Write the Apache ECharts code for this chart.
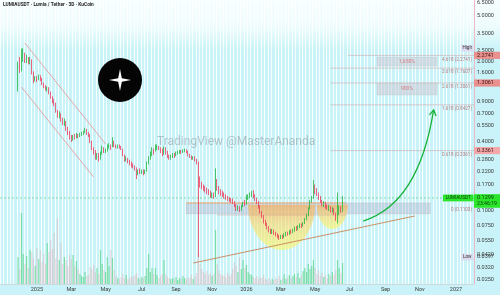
<!DOCTYPE html>
<html><head><meta charset="utf-8">
<script src="https://cdn.jsdelivr.net/npm/echarts@6/dist/echarts.min.js"></script>
<style>html,body{margin:0;padding:0;background:#c9f3f8;overflow:hidden}#c{width:500px;height:295px}</style>
</head><body><div id="c"></div>
<script>
// ---- time slots (3D candles) ----
const startDate = [2024, 9, 28];
const slotDays = 3;
const slotCount = 276;
const firstSlot = 10;
const firstLabelSlot = 10;
const firstOpen = 1.13;
const monthNames = ['Jan','Feb','Mar','Apr','May','Jun','Jul','Aug','Sep','Oct','Nov','Dec'];
const labelMonths = [0, 2, 4, 6, 8, 10];

// ---- price data (close / high / low per 3D candle) ----
const closes = [
1.95,1.70,2.20,2.35,2.05,2.15,1.95,2.10,1.60,1.38,
1.45,1.40,1.48,1.42,1.30,1.22,1.15,1.18,1.08,0.98,
0.90,0.86,0.74,0.68,0.70,0.63,0.58,0.60,0.53,0.48,
0.44,0.42,0.45,0.44,0.46,0.45,0.46,0.47,0.49,0.51,
0.48,0.46,0.40,0.35,0.33,0.30,0.31,0.29,0.32,0.35,
0.33,0.34,0.36,0.37,0.36,0.39,0.37,0.36,0.37,0.36,
0.35,0.31,0.285,0.29,0.27,0.26,0.255,0.245,0.235,0.215,
0.225,0.22,0.225,0.215,0.225,0.26,0.29,0.31,0.34,0.33,
0.36,0.37,0.35,0.34,0.32,0.35,0.33,0.30,0.29,0.30,
0.31,0.30,0.32,0.325,0.33,0.325,0.335,0.34,0.33,0.31,
0.30,0.29,0.295,0.28,0.265,0.19,0.175,0.165,0.16,0.155,
0.15,0.145,0.138,0.14,0.135,0.17,0.16,0.15,0.145,0.14,
0.135,0.132,0.128,0.127,0.125,0.12,0.113,0.105,0.108,0.104,
0.11,0.118,0.115,0.128,0.135,0.14,0.145,0.135,0.128,0.12,
0.11,0.098,0.09,0.082,0.077,0.072,0.068,0.066,0.067,0.064,
0.062,0.060,0.058,0.060,0.059,0.062,0.064,0.063,0.066,0.065,
0.068,0.071,0.069,0.073,0.076,0.074,0.078,0.084,0.092,0.105,
0.12,0.13,0.155,0.15,0.14,0.13,0.122,0.115,0.118,0.11,
0.106,0.109,0.10,0.104,0.095,0.085,0.095,0.105,0.10,0.1299];
const highs = [
2.0,2.2,2.6,2.62,2.4,2.3,2.2,2.2,2.1,1.65,
1.5,1.5,1.55,1.52,1.45,1.32,1.25,1.22,1.2,1.1,
1.0,0.95,0.88,0.76,0.74,0.71,0.65,0.64,0.61,0.54,
0.5,0.46,0.46,0.47,0.48,0.47,0.48,0.49,0.5,0.53,
0.52,0.49,0.47,0.41,0.36,0.34,0.32,0.32,0.33,0.37,
0.36,0.35,0.38,0.39,0.38,0.44,0.41,0.38,0.38,0.38,
0.37,0.35,0.31,0.30,0.29,0.28,0.27,0.26,0.25,0.24,
0.23,0.235,0.23,0.23,0.23,0.27,0.30,0.33,0.36,0.35,
0.38,0.38,0.37,0.36,0.35,0.365,0.36,0.335,0.31,0.31,
0.32,0.32,0.33,0.335,0.34,0.34,0.345,0.35,0.345,0.335,
0.315,0.305,0.30,0.30,0.285,0.27,0.20,0.18,0.17,0.165,
0.16,0.155,0.15,0.145,0.145,0.235,0.19,0.165,0.155,0.15,
0.145,0.14,0.135,0.132,0.13,0.128,0.122,0.115,0.112,0.11,
0.113,0.12,0.125,0.138,0.14,0.145,0.15,0.152,0.14,0.13,
0.122,0.112,0.10,0.092,0.084,0.079,0.074,0.07,0.07,0.069,
0.066,0.064,0.062,0.062,0.062,0.064,0.066,0.066,0.068,0.069,
0.07,0.073,0.074,0.075,0.078,0.078,0.08,0.087,0.095,0.108,
0.125,0.135,0.186,0.17,0.158,0.145,0.135,0.125,0.122,0.12,
0.114,0.113,0.11,0.108,0.106,0.097,0.145,0.112,0.11,0.135];
const lows = [
1.1,1.6,1.65,2.0,1.95,1.95,1.9,1.9,1.55,1.3,
1.35,1.33,1.38,1.36,1.25,1.18,1.12,1.1,1.04,0.95,
0.87,0.82,0.72,0.65,0.64,0.6,0.56,0.55,0.5,0.46,
0.42,0.4,0.41,0.42,0.43,0.43,0.44,0.45,0.46,0.48,
0.46,0.44,0.39,0.34,0.31,0.28,0.28,0.27,0.28,0.31,
0.32,0.32,0.33,0.35,0.34,0.36,0.36,0.35,0.35,0.35,
0.34,0.3,0.27,0.27,0.26,0.25,0.24,0.235,0.225,0.19,
0.205,0.21,0.21,0.205,0.21,0.22,0.255,0.28,0.30,0.31,
0.33,0.34,0.34,0.32,0.30,0.31,0.31,0.29,0.28,0.28,
0.29,0.29,0.30,0.31,0.315,0.315,0.32,0.325,0.32,0.30,
0.29,0.28,0.28,0.27,0.255,0.0397,0.16,0.155,0.15,0.145,
0.14,0.138,0.13,0.13,0.128,0.132,0.15,0.14,0.135,0.133,
0.128,0.125,0.122,0.12,0.118,0.115,0.108,0.10,0.10,0.098,
0.10,0.108,0.11,0.113,0.125,0.13,0.132,0.13,0.122,0.115,
0.105,0.095,0.087,0.078,0.074,0.069,0.065,0.063,0.063,0.062,
0.06,0.058,0.056,0.057,0.057,0.058,0.06,0.061,0.062,0.063,
0.064,0.066,0.067,0.068,0.071,0.071,0.073,0.077,0.083,0.09,
0.103,0.118,0.128,0.14,0.135,0.125,0.118,0.11,0.108,0.105,
0.102,0.10,0.097,0.097,0.092,0.082,0.078,0.092,0.096,0.098];
// volume, millions
const volumes = [
2.7,1.5,7.1,3.0,2.0,2.8,1.6,3.4,3.2,2.5,
1.8,3.6,2.5,3.4,2.2,3.0,2.0,4.1,3.2,4.4,
3.5,5.1,2.6,6.6,2.4,4.1,2.0,2.7,2.4,1.8,
2.9,2.5,2.9,1.8,2.3,1.5,1.0,0.8,0.7,1.2,
0.8,0.9,1.7,1.5,1.9,1.2,1.6,1.0,3.4,2.0,
1.4,1.2,2.7,1.8,3.4,2.6,1.4,0.8,0.6,0.5,
0.7,1.0,0.6,0.9,0.5,0.6,0.8,0.7,0.9,1.1,
0.6,0.5,0.7,0.6,0.8,1.6,3.0,1.2,1.6,1.0,
1.6,0.9,0.6,0.8,1.0,2.4,1.0,0.7,0.6,0.5,
0.6,0.5,0.7,0.4,0.6,0.5,0.8,0.6,0.5,0.7,
0.6,0.9,0.5,0.8,1.1,3.2,2.0,1.5,1.2,1.0,
1.3,0.9,1.1,0.8,1.0,5.4,2.0,1.3,1.0,0.8,
0.9,0.7,1.1,0.8,1.0,1.5,2.2,1.8,1.2,2.7,
1.5,2.4,1.6,1.9,1.2,1.0,0.9,0.7,0.6,0.8,
0.5,0.7,0.6,0.9,0.5,0.4,0.6,0.3,0.5,0.4,
0.6,0.5,0.8,0.4,0.6,1.0,0.5,0.7,0.9,0.6,
0.8,1.0,0.7,1.1,0.6,0.9,1.3,1.6,1.2,2.0,
1.5,1.8,2.4,1.6,1.0,1.3,0.8,1.1,0.7,0.9,
0.6,1.0,0.8,1.2,0.9,1.4,2.4,1.6,1.1,2.1];
const volAxisMax = 28.4;

// ---- price scale ----
const yMin = 0.0231, yMax = 6.91;
const priceTicks = [6.5,5,3.5,2.5,2.0,1.6,0.9,0.7,0.55,0.4,0.28,0.22,0.17,0.1,0.075,0.055,0.042,0.032,0.025];
const currentPrice = 0.1299;
const countdown = '23:46:19';
const highPrice = 2.62, lowPrice = 0.0397;

// ---- fib extension levels ----
const fibNames  = ['4.618','3.618','2.618','1.618','0.618','0'];
const fibPrices = [2.2741, 1.7607, 1.3061, 0.8427, 0.3361, 0.1103];
const fibFrom   = [202, 192, 192, 192, 192, null];
const boxedPrices = [2.2741, 1.3061, 0.3361];
const pctTexts = ['1,650%', '900%'];
const pctRanges = [[2.201, 1.838], [1.306, 1.026]];

// ---- drawings in (slot, price) ----
const channelUpper = [[14.1, 2.915], [60.6, 0.384]];
const channelLower = [[12.3, 1.205], [53.7, 0.198]];
const supportLine = [[111.9, 0.0352], [241.1, 0.0905]];
const arrowPts = [[210.9, 0.0818], [227.7, 0.098], [245.2, 0.1687], [251.6, 0.76]];
const zone = {from: 108.4, to: 249.9, top: 0.1175, bottom: 0.0945, lineTo: 201, lowLine: 0.0923, lowFrom: 126};
const cups = [{from: 143.9, to: 182.9, top: 0.1135, bottom: 0.0457}, {from: 184.0, to: 202.0, top: 0.1135, bottom: 0.0696}];
const pctFrom = 219, pctTo = 254;

const DAY = 864e5;
const startMs = Date.UTC(startDate[0], startDate[1], startDate[2]);
const categories = [];
for (let i = 0; i < slotCount; i++) categories.push(new Date(startMs + i * slotDays * DAY).toISOString().slice(0, 10));
function monthStartIn(i) {
  for (let k = 0; k < slotDays; k++) {
    const d = new Date(startMs + (i * slotDays + k) * DAY);
    if (d.getUTCDate() === 1) return d;
  }
  return null;
}

const candles = [], vols = [];
let prev = firstOpen;
for (let k = 0; k < closes.length; k++) {
  const s = firstSlot + k, o = prev, c = closes[k];
  candles.push([s, o, c, lows[k], highs[k]]);
  vols.push({value: [s, volumes[k]], itemStyle: {color: c >= o ? 'rgba(40,200,90,0.5)' : 'rgba(225,140,150,0.33)'}});
  prev = c;
}

const FONT = 'Roboto, "DejaVu Sans", sans-serif';
const chart = echarts.init(document.getElementById('c'), null, {renderer: 'canvas'});
const gridRight = 26, gridBottom = 11;
chart.setOption({
  backgroundColor: 'transparent',
  animation: false,
  grid: {left: 0, right: gridRight, top: 0, bottom: gridBottom},
  xAxis: {
    type: 'category', data: categories, boundaryGap: true,
    axisLine: {show: true, lineStyle: {color: 'rgba(210,170,180,0.6)', width: 0.6}},
    axisTick: {show: false},
    axisLabel: {
      interval: (i) => { if (i < firstLabelSlot) return false; const d = monthStartIn(i); return !!d && labelMonths.includes(d.getUTCMonth()); },
      formatter: (v, i) => { const d = monthStartIn(i); if (!d) return ''; return d.getUTCMonth() === 0 ? String(d.getUTCFullYear()) : monthNames[d.getUTCMonth()]; },
      fontSize: 5.5, color: '#3c3c3c', margin: 3, fontFamily: 'Roboto, "DejaVu Sans", sans-serif'
    },
    splitLine: {show: true, interval: 1, lineStyle: {color: 'rgba(255,255,255,0.85)', width: 1}}
  },
  yAxis: [
    {type: 'log', logBase: 10, position: 'right', min: yMin, max: yMax,
     axisLine: {show: true, lineStyle: {color: '#f0b8c2', width: 1}}, axisTick: {show: false},
     axisLabel: {show: false}, splitLine: {show: false}},
    {type: 'value', min: 0, max: volAxisMax, show: false, splitLine: {show: false}}
  ],
  series: [
    {type: 'bar', xAxisIndex: 0, yAxisIndex: 1, data: vols, barWidth: 1.2, z: 2, silent: true},
    {type: 'candlestick', xAxisIndex: 0, yAxisIndex: 0, data: candles, encode: {x: 0, y: [1, 2, 3, 4]}, barWidth: 1.3, z: 5, silent: true,
     itemStyle: {color: '#22b840', color0: '#ee3c5e', borderColor: '#22b840', borderColor0: '#ee3c5e', borderWidth: 0.8}}
  ]
});

function build() {
  const P = (s, p) => chart.convertToPixel({gridIndex: 0}, [s, p]);
  const Y = (p) => P(0, p)[1];
  const W = 500, H = 295, axisX = W - gridRight;
  const g = [];
  g.push({type: 'rect', silent: true, z: -100, shape: {x: 0, y: 0, width: W, height: H},
    style: {fill: new echarts.graphic.LinearGradient(0, 0, 0, 1, [
      {offset: 0, color: '#f7feff'}, {offset: 0.09, color: '#eefcfd'}, {offset: 0.17, color: '#c9f3f8'}, {offset: 1, color: '#c9f3f8'}])}});
  // resistance zone
  const z0 = P(zone.from, zone.top), z1 = P(zone.to, zone.bottom);
  g.push({type: 'rect', silent: true, z: 1, shape: {x: z0[0], y: z0[1], width: z1[0] - z0[0], height: z1[1] - z0[1]},
    style: {fill: 'rgba(165,160,190,0.33)', stroke: 'rgba(200,160,170,0.6)', lineWidth: 0.5}});
  // cups
  cups.forEach(c => {
    const a = P(c.from, c.top), b = P(c.to, c.top), yb = Y(c.bottom);
    const cx = (a[0] + b[0]) / 2, rx = (b[0] - a[0]) / 2, ry = yb - a[1];
    const pts = [];
    for (let k = 0; k <= 48; k++) { const t = Math.PI * k / 48; pts.push([cx + rx * Math.cos(t), a[1] + ry * Math.sin(t)]); }
    g.push({type: 'polygon', silent: true, z: 1, shape: {points: pts},
      style: {fill: new echarts.graphic.LinearGradient(0, 0, 0, 1, [
        {offset: 0, color: 'rgba(255,165,70,0.6)'}, {offset: 0.45, color: 'rgba(255,215,90,0.55)'}, {offset: 1, color: 'rgba(250,250,110,0.65)'}])}});
  });
  // zone lines
  const zt = P(zone.lineTo, zone.top);
  g.push({type: 'line', silent: true, z: 3, shape: {x1: z0[0], y1: z0[1], x2: zt[0], y2: zt[1]}, style: {stroke: 'rgba(245,150,70,0.9)', lineWidth: 0.8}});
  const l0 = P(zone.lowFrom, zone.lowLine), l1 = P(zone.lineTo, zone.lowLine);
  g.push({type: 'line', silent: true, z: 3, shape: {x1: l0[0], y1: l0[1], x2: l1[0], y2: l1[1]}, style: {stroke: 'rgba(200,130,130,0.6)', lineWidth: 0.6}});
  // channel + support
  [[channelUpper, '#e98585', 0.7], [channelLower, '#e98585', 0.7], [supportLine, '#c8845a', 0.9]].forEach(([ln, col, w]) => {
    const a = P(ln[0][0], ln[0][1]), b = P(ln[1][0], ln[1][1]);
    g.push({type: 'line', silent: true, z: 6, shape: {x1: a[0], y1: a[1], x2: b[0], y2: b[1]}, style: {stroke: col, lineWidth: w}});
  });
  // current price dashed line
  const yc = Y(currentPrice);
  g.push({type: 'line', silent: true, z: 4, shape: {x1: 0, y1: yc, x2: axisX, y2: yc}, style: {stroke: 'rgba(30,190,60,0.75)', lineWidth: 0.6, lineDash: [2, 2]}});
  // fib lines and texts
  fibPrices.forEach((p, i) => {
    const y = Y(p);
    if (fibFrom[i] != null) {
      const x0 = P(fibFrom[i], p)[0];
      g.push({type: 'line', silent: true, z: 3, shape: {x1: x0, y1: y, x2: axisX, y2: y}, style: {stroke: 'rgba(205,130,135,0.65)', lineWidth: 0.6}});
    }
    g.push({type: 'text', silent: true, z: 7, x: axisX - 2, y: y + 1.5,
      style: {text: fibNames[i] + ' (' + p.toFixed(4) + ')', fontSize: 4.6, fill: 'rgba(175,110,115,0.9)', align: 'right', verticalAlign: 'top', fontFamily: FONT}});
  });
  // percent boxes
  pctRanges.forEach((r, i) => {
    const a = P(pctFrom, r[0]), b = P(pctTo, r[1]);
    g.push({type: 'rect', silent: true, z: 3, shape: {x: a[0], y: a[1], width: b[0] - a[0], height: b[1] - a[1]},
      style: {fill: 'rgba(200,198,210,0.55)', stroke: 'rgba(200,180,190,0.6)', lineWidth: 0.4}});
    g.push({type: 'text', silent: true, z: 4, x: (a[0] + b[0]) / 2, y: (a[1] + b[1]) / 2,
      style: {text: pctTexts[i], fontSize: 5, fill: 'rgba(215,120,125,0.95)', align: 'center', verticalAlign: 'middle', fontFamily: FONT}});
  });
  // green curved arrow
  const A = arrowPts.map(q => P(q[0], q[1]));
  g.push({type: 'bezierCurve', silent: true, z: 8,
    shape: {x1: A[0][0], y1: A[0][1], cpx1: A[1][0], cpy1: A[1][1], cpx2: A[2][0], cpy2: A[2][1], x2: A[3][0], y2: A[3][1]},
    style: {stroke: '#16b23a', lineWidth: 1.3, fill: null}});
  {
    const dx = A[3][0] - A[2][0], dy = A[3][1] - A[2][1], L = Math.hypot(dx, dy), ux = dx / L, uy = dy / L, len = 6.5, ang = 0.55;
    const rot = (c, s) => [A[3][0] - len * (ux * c - uy * s), A[3][1] - len * (uy * c + ux * s)];
    const p1 = rot(Math.cos(ang), Math.sin(ang)), p2 = rot(Math.cos(-ang), Math.sin(-ang));
    g.push({type: 'polyline', silent: true, z: 8, shape: {points: [p1, A[3], p2]}, style: {stroke: '#16b23a', lineWidth: 1.3, fill: null}});
  }
  // axis labels
  priceTicks.forEach(v => {
    g.push({type: 'text', silent: true, z: 9, x: axisX + 3, y: Y(v),
      style: {text: v.toFixed(4), fontSize: 5.5, fill: '#3a3a3a', align: 'left', verticalAlign: 'middle', fontFamily: FONT}});
  });
  // low / high tags
  [[highPrice, 'High', null], [lowPrice, 'Low', lowPrice.toFixed(4)]].forEach(([p, t, val]) => {
    const y = Y(p);
    g.push({type: 'rect', silent: true, z: 10, shape: {x: axisX - 13, y: y - 3.3, width: 12.5, height: 6.6}, style: {fill: '#dcdcf1'}});
    g.push({type: 'text', silent: true, z: 11, x: axisX - 6.8, y: y, style: {text: t, fontSize: 4.6, fill: '#333', align: 'center', verticalAlign: 'middle', fontFamily: FONT}});
    if (val) g.push({type: 'text', silent: true, z: 11, x: axisX + 3, y: y, style: {text: val, fontSize: 5.5, fill: '#3a3a3a', align: 'left', verticalAlign: 'middle', fontFamily: FONT}});
  });
  // boxed prices on axis
  boxedPrices.forEach((p, i) => {
    const y = Y(p);
    g.push({type: 'rect', silent: true, z: 12, shape: {x: axisX, y: y - 3.6, width: gridRight, height: 7.2}, style: {fill: i < 2 ? '#e9918e' : '#f2a8a8'}});
    g.push({type: 'text', silent: true, z: 13, x: axisX + 3, y: y, style: {text: p.toFixed(4), fontSize: 5.5, fill: '#3d1212', align: 'left', verticalAlign: 'middle', fontFamily: FONT}});
  });
  // current price box
  g.push({type: 'rect', silent: true, z: 12, shape: {x: axisX, y: yc - 3.8, width: gridRight, height: 13.6}, style: {fill: '#2be52b'}});
  g.push({type: 'text', silent: true, z: 13, x: axisX + 3, y: yc, style: {text: currentPrice.toFixed(4), fontSize: 5.5, fill: '#0c3a0c', align: 'left', verticalAlign: 'middle', fontFamily: FONT}});
  g.push({type: 'text', silent: true, z: 13, x: axisX + 3, y: yc + 6, style: {text: countdown, fontSize: 5.2, fill: '#0c3a0c', align: 'left', verticalAlign: 'middle', fontFamily: FONT}});
  g.push({type: 'rect', silent: true, z: 12, shape: {x: axisX - 31, y: yc - 3.4, width: 30.5, height: 6.8}, style: {fill: '#2be52b'}});
  g.push({type: 'text', silent: true, z: 13, x: axisX - 15.8, y: yc, style: {text: 'LUMIAUSDT', fontSize: 4.6, fill: '#0c3a0c', align: 'center', verticalAlign: 'middle', fontFamily: FONT}});
  // logo
  g.push({type: 'circle', silent: true, z: 7, shape: {cx: 120, cy: 80, r: 22}, style: {fill: '#050505'}});
  const star = []; const R = 11, r = 2.6;
  for (let k = 0; k < 8; k++) { const t = -Math.PI / 2 + k * Math.PI / 4, rr = k % 2 ? r : R; star.push([120 + rr * Math.cos(t), 80 + rr * Math.sin(t)]); }
  g.push({type: 'polygon', silent: true, z: 8, shape: {points: star}, style: {fill: '#ffffff'}});
  // watermark
  g.push({type: 'text', silent: true, z: 7, x: 157, y: 142, style: {text: 'TradingView @MasterAnanda', fontSize: 12, fill: 'rgba(125,130,140,0.45)', align: 'left', verticalAlign: 'middle', fontFamily: FONT}});
  // title
  g.push({type: 'text', silent: true, z: 20, x: 3, y: 5, style: {text: 'LUMIAUSDT · Lumia / Tether · 3D · KuCoin', fontSize: 4.8, fontWeight: 'bold', fill: '#1f1f1f', align: 'left', verticalAlign: 'middle', fontFamily: FONT}});
  chart.setOption({graphic: g});
}
build();
</script>
</body></html>
